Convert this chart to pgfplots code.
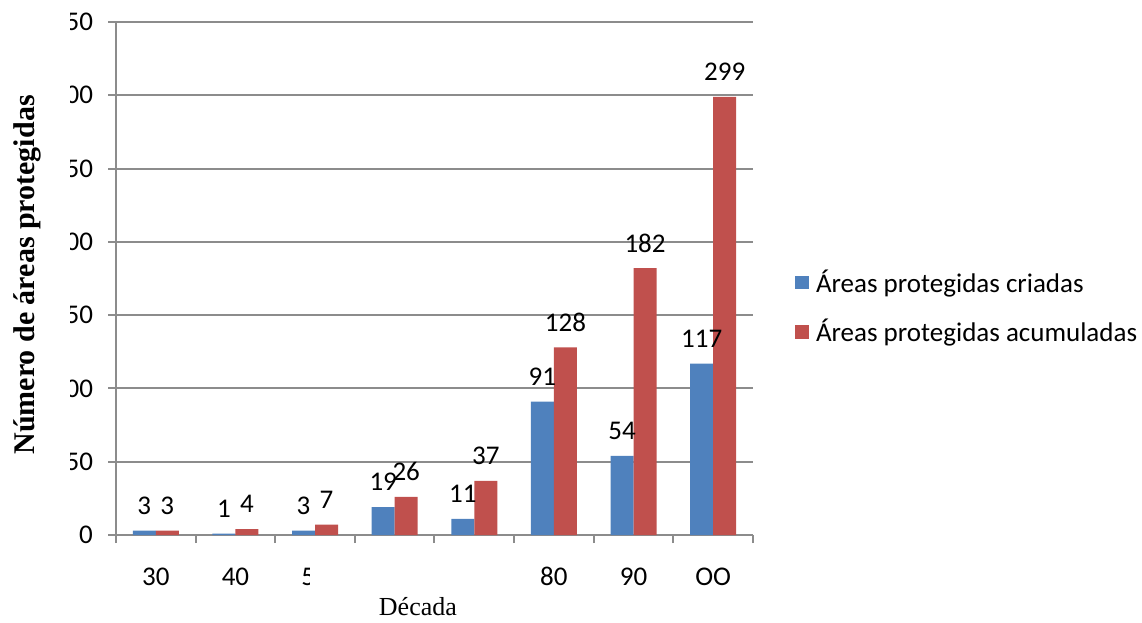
\documentclass[border=0pt]{standalone}
\usepackage{pgfplots}
\pgfplotsset{compat=1.18}
\usepackage{fontspec}
\setmainfont{Carlito}
\newfontfamily\timesfont{Liberation Serif}
\definecolor{serieA}{HTML}{4F81BD}
\definecolor{serieB}{HTML}{C0504D}
\definecolor{gridgray}{HTML}{8C8C8C}

\begin{document}
\begin{tikzpicture}
\path[use as bounding box] (0,0) rectangle (571pt,311pt);
\begin{axis}[
  at={(58pt,43.5pt)}, anchor=south west,
  scale only axis, width=318.5pt, height=256.5pt,
  ybar=0pt, bar width=11.5pt,
  xmin=-0.5, xmax=7.5, ymin=0, ymax=350,
  xtick={0,...,7},
  xticklabels={30,40,50,{},{},80,90,OO},
  minor xtick={-0.5,0.5,...,7.5},
  ytick={0,50,...,350},
  axis x line*=bottom, axis y line*=left,
  tick align=outside,
  major x tick style={draw=none},
  major tick length=4pt, minor tick length=4pt,
  tick style={gridgray, line width=1pt},
  axis line style={gridgray, line width=1pt},
  ymajorgrids, grid style={gridgray, line width=1pt},
  /pgf/number format/assume math mode=true,
  ticklabel style={font=\fontsize{13.5}{13.5}\selectfont, black},
  yticklabel style={xshift=-4pt},
  xticklabel style={anchor=base, yshift=-21pt},
  nodes near coords,
  every node near coord/.append style={font=\fontsize{13.5}{13.5}\selectfont, black, anchor=center, yshift=12.5pt},
  ylabel={\timesfont\bfseries Número de áreas protegidas},
  ylabel style={at={(rel axis cs:-0.1397,0.507)}, anchor=center, font=\fontsize{15}{15}\selectfont},
  xlabel={\timesfont Década},
  xlabel style={at={(rel axis cs:0.474,-0.1404)}, anchor=center, font=\fontsize{13}{13}\selectfont},
  legend style={at={(rel axis cs:1.066,0.444)}, anchor=west, draw=none, fill=none,
    font=\fontsize{13.5}{13.5}\selectfont, row sep=8pt, inner sep=0pt},
  legend cell align=left,
  legend image code/.code={\fill[#1] (0pt,-3.4pt) rectangle (6.8pt,3.4pt); \path (8.3pt,0pt);},
]
\addplot[fill=serieA, draw=none] coordinates {(0,3) (1,1) (2,3) (3,19) (4,11) (5,91) (6,54) (7,117)};
\addplot[fill=serieB, draw=none] coordinates {(0,3) (1,4) (2,7) (3,26) (4,37) (5,128) (6,182) (7,299)};
\legend{Áreas protegidas criadas, Áreas protegidas acumuladas}
\end{axis}
% the tick labels are cut off at the left edge and inside the 50s label
\fill[white] (22.5pt,0pt) rectangle (35pt,311pt);
\fill[white] (155pt,18pt) rectangle (172pt,32pt);
\end{tikzpicture}
\end{document}
